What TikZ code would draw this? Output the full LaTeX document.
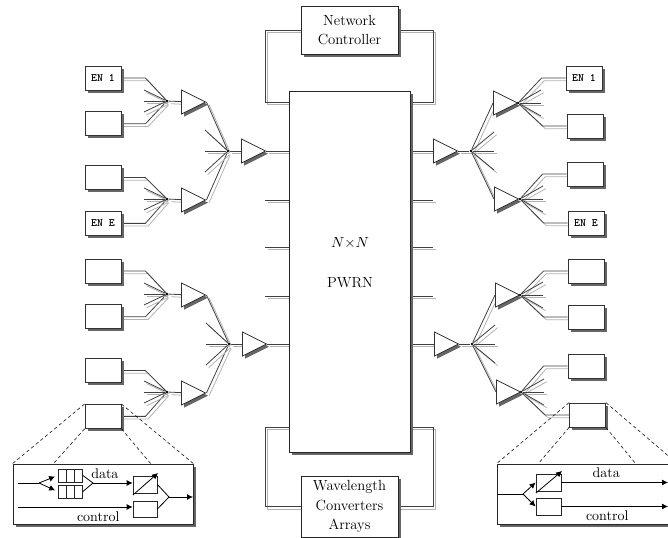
\documentclass[tikz,border=0pt]{standalone}
\usepackage{tikz}
\usetikzlibrary{arrows.meta,positioning,shapes.geometric,shadows,backgrounds}

\tikzset{
  shade box/.style={drop shadow={shadow xshift=2pt,shadow yshift=-2pt,fill=black!60,opacity=1}},
  endbox/.style={draw=black!80,line width=0.6pt,fill=white,minimum width=27pt,minimum height=18pt,inner sep=0pt,shade box,font=\ttfamily\bfseries\fontsize{8.5}{10}\selectfont},
  mainbox/.style={draw=black!85,line width=0.6pt,fill=white,inner sep=0pt,shade box,align=center,font=\fontsize{11}{14.5}\selectfont},
  amp/.style={isosceles triangle,isosceles triangle stretches,draw=black!80,line width=0.6pt,fill=white,minimum width=18pt,minimum height=18pt,inner sep=0pt,shade box,anchor=lower side},
  hub/.style={circle,fill=black,minimum size=2pt,inner sep=0pt},
  wire/.style={draw=black!75,line width=0.6pt,preaction={draw=black!30,line width=0.6pt,transform canvas={xshift=2pt,yshift=-2pt}}},
  part/.style={draw=black!85,line width=0.6pt,fill=white,inner sep=0pt},
  cell/.style={part,minimum width=6pt,minimum height=9.75pt},
  tag/.style={inner sep=0pt,font=\fontsize{10.5}{12}\selectfont},
  link/.style={line width=0.6pt},
  feed/.style={line width=0.6pt,-{Latex[length=4.5pt,width=4.5pt]}},
  zoomline/.style={dashed,line width=0.4pt,dash pattern=on 2.5pt off 2pt}
}
\newcommand{\fanrays}[3]{
\draw[wire] (#1) -- +(#2*23,-#3);
\draw[wire] (#1) -- +(#2*23,0);
\draw[wire] (#1) -- +(#2*23,#3);
}

\begin{document}
\begin{tikzpicture}[x=0.75pt,y=-0.75pt]
\useasboundingbox (0,0) rectangle (668,538);
\clip (0,0) rectangle (668,538);
% switch and the two arrays
\node[mainbox,minimum width=90.75pt,minimum height=270.75pt] (pwrn) at (349.5,271.5) {};
\node (nxn) at (350,243) {\fontsize{10.5}{12}\selectfont $N{\times}N$};
\node[font=\fontsize{11}{12}\selectfont] (pwrnlabel) at (350,283) {PWRN};
\node[mainbox,minimum width=72.75pt,minimum height=36pt] (ctrl) at (349.5,30) {Network\\Controller};
\node[mainbox,minimum width=72.75pt,minimum height=45.75pt] (conv) at (349.5,506.5) {Wavelength\\Converters\\Arrays};
% left side, upper
\node[endbox] (lbox1) at (103,78) {EN 1};
\node[endbox] (lbox2) [below=15.75pt of lbox1] {};
\node[endbox] (lbox3) [below=21.75pt of lbox2] {};
\node[endbox] (lbox4) [below=15.75pt of lbox3] {EN E};
\node[hub] (lhub1) at (167,101) {};
\node[hub] (lhub2) at (167,199) {};
\node[hub] (lhub5) at (228,151) {};
\node[amp] (ltri1) at (181,102) {};
\node[amp] (ltri2) at (181,200) {};
\node[amp] (ltri5) at (241,151) {};
% left side, lower
\node[endbox] (lbox5) at (103,271) {};
\node[endbox] (lbox6) [below=15.75pt of lbox5] {};
\node[endbox] (lbox7) [below=21.75pt of lbox6] {};
\node[endbox] (lbox8) [below=15.75pt of lbox7] {};
\node[hub] (lhub3) at (167,294) {};
\node[hub] (lhub4) at (167,392) {};
\node[hub] (lhub6) at (229,344) {};
\node[amp] (ltri3) at (181,295) {};
\node[amp] (ltri4) at (181,393) {};
\node[amp] (ltri6) at (242,344) {};
% right side, upper
\node[endbox] (rbox1) at (584,78) {EN 1};
\node[endbox] (rbox2) at (585,126) {};
\node[endbox] (rbox3) at (585,174) {};
\node[endbox] (rbox4) at (586,223) {EN E};
\node[hub] (rhub1) at (518,103) {};
\node[hub] (rhub2) at (520,199) {};
\node[hub] (rhub5) at (471,151) {};
\node[amp] (rtri1) at (493,103) {};
\node[amp] (rtri2) at (494,199) {};
\node[amp] (rtri5) at (433,151) {};
% right side, lower
\node[endbox] (rbox5) at (586,271) {};
\node[endbox] (rbox6) at (586,317) {};
\node[endbox] (rbox7) at (586,366) {};
\node[endbox] (rbox8) at (587.5,415) {};
\node[hub] (rhub3) at (520,295) {};
\node[hub] (rhub4) at (521,392) {};
\node[hub] (rhub6) at (472,344) {};
\node[amp] (rtri3) at (495,295) {};
\node[amp] (rtri4) at (496,392) {};
\node[amp] (rtri6) at (434,344) {};
% stubs on the switch
\coordinate (lstub1) at (265,200);
\coordinate (lstub2) at (265,247);
\coordinate (lstub3) at (265,296);
\coordinate (rstub1) at (433,200);
\coordinate (rstub2) at (433,247);
\coordinate (rstub3) at (433,296);

\begin{scope}[on background layer]
\draw[wire] (ctrl.west) -| (265,102) -- (265,102 -| pwrn.west);
\draw[wire] (ctrl.east) -| (433,102) -- (433,102 -| pwrn.east);
\draw[wire] (conv.west) -| (265,427) -- (265,427 -| pwrn.west);
\draw[wire] (conv.east) -| (433,427) -- (433,427 -| pwrn.east);
\draw[wire] (lstub1) -- (lstub1 -| pwrn.west);
\draw[wire] (lstub2) -- (lstub2 -| pwrn.west);
\draw[wire] (lstub3) -- (lstub3 -| pwrn.west);
\draw[wire] (rstub1) -- (rstub1 -| pwrn.east);
\draw[wire] (rstub2) -- (rstub2 -| pwrn.east);
\draw[wire] (rstub3) -- (rstub3 -| pwrn.east);
\draw[wire] (ltri5.apex) -- (ltri5.apex -| pwrn.west);
\draw[wire] (ltri6.apex) -- (ltri6.apex -| pwrn.west);
\draw[wire] (rtri5.lower side) -- (rtri5.lower side -| pwrn.east);
\draw[wire] (rtri6.lower side) -- (rtri6.lower side -| pwrn.east);
\draw[wire] (lbox1.east) -- ++(24,0) -- (lhub1);
\draw[wire] (lbox2.east) -- ++(24,0) -- (lhub1);
\draw[wire] (lbox3.east) -- ++(24,0) -- (lhub2);
\draw[wire] (lbox4.east) -- ++(24,0) -- (lhub2);
\draw[wire] (lbox5.east) -- ++(24,0) -- (lhub3);
\draw[wire] (lbox6.east) -- ++(24,0) -- (lhub3);
\draw[wire] (lbox7.east) -- ++(24,0) -- (lhub4);
\draw[wire] (lbox8.east) -- ++(24,0) -- (lhub4);
\draw[wire] (rbox1.west) -- ++(-24,0) -- (rhub1);
\draw[wire] (rbox2.west) -- ++(-24,0) -- (rhub1);
\draw[wire] (rbox3.west) -- ++(-24,0) -- (rhub2);
\draw[wire] (rbox4.west) -- ++(-24,0) -- (rhub2);
\draw[wire] (rbox5.west) -- ++(-24,0) -- (rhub3);
\draw[wire] (rbox6.west) -- ++(-24,0) -- (rhub3);
\draw[wire] (rbox7.west) -- ++(-24,0) -- (rhub4);
\draw[wire] (rbox8.west) -- ++(-24,0) -- (rhub4);
\draw[wire] (lhub1) -- (ltri1);
\draw[wire] (lhub2) -- (ltri2);
\draw[wire] (lhub3) -- (ltri3);
\draw[wire] (lhub4) -- (ltri4);
\draw[wire] (lhub5) -- (ltri5);
\draw[wire] (lhub6) -- (ltri6);
\draw[wire] (ltri1.apex) -- (lhub5);
\draw[wire] (ltri2.apex) -- (lhub5);
\draw[wire] (ltri3.apex) -- (lhub6);
\draw[wire] (ltri4.apex) -- (lhub6);
\draw[wire] (rtri5.apex) -- (rhub5);
\draw[wire] (rtri6.apex) -- (rhub6);
\draw[wire] (rhub5) -- (rtri1.lower side);
\draw[wire] (rhub5) -- (rtri2.lower side);
\draw[wire] (rhub6) -- (rtri3.lower side);
\draw[wire] (rhub6) -- (rtri4.lower side);
\fanrays{lhub1}{-1}{11}
\fanrays{lhub2}{-1}{11}
\fanrays{lhub3}{-1}{11}
\fanrays{lhub4}{-1}{11}
\fanrays{lhub5}{-1}{21}
\fanrays{lhub6}{-1}{21}
\fanrays{rhub1}{1}{13}
\fanrays{rhub2}{1}{13}
\fanrays{rhub3}{1}{13}
\fanrays{rhub4}{1}{13}
\fanrays{rhub5}{1}{19}
\fanrays{rhub6}{1}{19}
\end{scope}

% left detail
\node[part,shade box,minimum width=135pt,minimum height=45pt] (ldetail) at (103,494) {};
\draw[zoomline] (lbox8.north west) -- (ldetail.north west);
\draw[zoomline] (lbox8.south west) -- (53,464);
\draw[zoomline] (lbox8.south east) -- (151,464);
\draw[zoomline] (lbox8.north east) -- (ldetail.north east);
\node[cell] (q1) at (62,475.5) {};
\node[cell] (q2) [right=-0.4pt of q1] {};
\node[cell] (q3) [right=-0.4pt of q2] {};
\node[cell] (q4) at (62,491.5) {};
\node[cell] (q5) [right=-0.4pt of q4] {};
\node[cell] (q6) [right=-0.4pt of q5] {};
\node[part,minimum width=18pt,minimum height=12.75pt] (lconv) at (145,484.5) {};
\node[part,minimum width=18pt,minimum height=12pt] (lgate) at (145,509) {};
\coordinate (lin1) at (18,483);
\coordinate (lin2) at (18,507);
\coordinate (lsplit) at (39,483);
\coordinate (ljoin1) at (93,483);
\coordinate (ljoin2) at (169,497);
\coordinate (lout) at (193,497);
\coordinate (lconva) at (133,495);
\coordinate (lconvb) at (158,473);
\draw[link] (lin1) -- (lsplit);
\draw[feed,shorten >=2pt] (lsplit) -- (q1.west);
\draw[feed,shorten >=2pt] (lsplit) -- (q4.west);
\draw[link] (q3.east) -- (ljoin1) -- (q6.east);
\draw[feed] (ljoin1) -- node[tag,above=3pt,pos=0.3] (ldata) {data} (ljoin1 -| lconv.west);
\draw[feed] (lin2) -- node[tag,below=3pt,pos=0.7] (lcontrol) {control} (lin2 -| lgate.west);
\draw[feed] (lconva) -- (lconvb);
\draw[link] (lconv.east) -- (ljoin2) -- (lgate.east);
\draw[feed] (ljoin2) -- (lout);
% right detail
\node[part,shade box,minimum width=135pt,minimum height=45pt] (rdetail) at (587,494) {};
\draw[zoomline] (rbox8.north west) -- (rdetail.north west);
\draw[zoomline] (rbox8.south west) -- (538,464);
\draw[zoomline] (rbox8.south east) -- (636,464);
\draw[zoomline] (rbox8.north east) -- (rdetail.north east);
\node[part,minimum width=18.75pt,minimum height=12.75pt] (rconv) at (548.5,482.5) {};
\node[part,minimum width=18.75pt,minimum height=12.75pt] (rgate) at (548.5,506.5) {};
\coordinate (rin) at (497,494);
\coordinate (rsplit) at (523,494);
\coordinate (rout1) at (668,482.5);
\coordinate (rout2) at (668,506.5);
\coordinate (rconva) at (536,493);
\coordinate (rconvb) at (562,471);
\draw[link] (rin) -- (rsplit);
\draw[feed] (rsplit) -- (rconv.west);
\draw[feed] (rsplit) -- (rgate.west);
\draw[feed] (rconva) -- (rconvb);
\draw[feed] (rconv.east) -- node[tag,above=3pt,pos=0.42] (rdata) {data} (rout1);
\draw[feed] (rgate.east) -- node[tag,below=3pt,pos=0.43] (rcontrol) {control} (rout2);
\end{tikzpicture}
\end{document}
